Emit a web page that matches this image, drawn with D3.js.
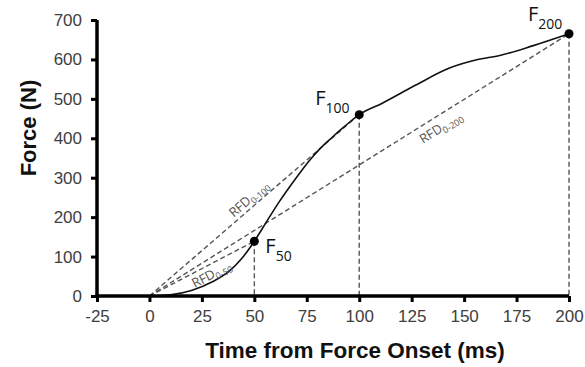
<!DOCTYPE html>
<html>
<head>
<meta charset="utf-8">
<script src="https://cdn.jsdelivr.net/npm/d3@7"></script>
<style>
  body { margin: 0; background: #fff; }
  text { font-family: Arial, "Liberation Sans", sans-serif; }
</style>
</head>
<body>
<script>
// curve data
const time = [0, 10, 20, 30, 38, 44, 50, 56, 62, 70, 76, 81, 87, 93, 100, 111, 127, 143, 156, 167, 183, 200]
const force = [0, 3, 14, 36, 63, 95, 139, 190, 240, 300, 342, 372, 402, 430, 460, 489, 535, 578, 599, 610, 635, 665]

// the marked points F50, F100, F200
const pointTimes = [50, 100, 200]
const pointForces = [139, 460, 665]
const pointNames = ['50', '100', '200']

const xTicks = [-25, 0, 25, 50, 75, 100, 125, 150, 175, 200]
const yTicks = [0, 100, 200, 300, 400, 500, 600, 700]

const margin = { top: 20, bottom: 71, left: 97, right: 16 }
const width = 585 - margin.left - margin.right
const height = 367 - margin.top - margin.bottom

const svg = d3.select('body').append('svg')
  .attr('width', 585)
  .attr('height', 367)

const g = svg.append('g').attr('transform', `translate(${margin.left},${margin.top})`)

const x = d3.scaleLinear().domain([-25, 200]).range([0, width])
const y = d3.scaleLinear().domain([0, 700]).range([height, 0])

// dashed lines from origin to each point + verticals
const dash = g.append('g')
  .style('stroke', '#555')
  .style('stroke-width', 1.4)
  .style('stroke-dasharray', '5,3')
  .style('fill', 'none')

pointTimes.forEach((t, i) => {
  dash.append('line')
    .attr('x1', x(0)).attr('y1', y(0))
    .attr('x2', x(t)).attr('y2', y(pointForces[i]))
  dash.append('line')
    .attr('x1', x(t)).attr('y1', y(pointForces[i]))
    .attr('x2', x(t)).attr('y2', y(0))
})

// force curve
const line = d3.line()
  .x((d, i) => x(time[i]))
  .y(d => y(d))
  .curve(d3.curveMonotoneX)

g.append('path')
  .datum(force)
  .attr('d', line)
  .style('fill', 'none')
  .style('stroke', '#111')
  .style('stroke-width', 1.6)

// axes
const xAxis = g.append('g')
  .attr('transform', `translate(0,${height})`)
  .call(d3.axisBottom(x).tickValues(xTicks).tickSize(6).tickPadding(8).tickFormat(d => d < 0 ? '-' + Math.abs(d) : d))
const yAxis = g.append('g')
  .call(d3.axisLeft(y).tickValues(yTicks).tickSize(6).tickPadding(9))

;[xAxis, yAxis].forEach(a => {
  a.select('.domain').style('stroke', '#000').style('stroke-width', 3.5)
  a.selectAll('.tick line').style('stroke', '#000').style('stroke-width', 3)
  a.selectAll('.tick text')
    .style('fill', '#404040')
    .style('font-size', '17px')
    .style('font-family', 'Arial, "Liberation Sans", sans-serif')
})
xAxis.select('.domain').attr('d', `M-1.5,0H${width}`)
yAxis.select('.domain').attr('d', `M0,0V${height}`)

// points
g.selectAll('circle.pt')
  .data(pointTimes)
  .join('circle')
  .attr('class', 'pt')
  .attr('cx', d => x(d))
  .attr('cy', (d, i) => y(pointForces[i]))
  .attr('r', 4.5)
  .style('fill', '#000')

// F labels
const fLabelOffsets = [[11, 12], [-44, -10], [-41, -13]]
pointTimes.forEach((t, i) => {
  const lbl = g.append('text')
    .attr('x', x(t) + fLabelOffsets[i][0])
    .attr('y', y(pointForces[i]) + fLabelOffsets[i][1])
    .style('font-family', '"Open Sans", sans-serif')
    .style('font-size', '20px')
    .style('fill', '#111')
  lbl.append('tspan').text('F')
  lbl.append('tspan').attr('dy', 8).style('font-size', '14px').text(pointNames[i])
})

// RFD labels along the dashed lines
const rfdLabels = [
  { t: 50, f: 139, pos: 0.55, off: 14, name: '0-50' },
  { t: 100, f: 460, pos: 0.5, off: -4, name: '0-100' },
  { t: 200, f: 665, pos: 0.68, off: 16, name: '0-200' }
]
rfdLabels.forEach(r => {
  const x0 = x(0), y0 = y(0), x1 = x(r.t), y1 = y(r.f)
  const ang = Math.atan2(y1 - y0, x1 - x0) * 180 / Math.PI
  const cx = x0 + (x1 - x0) * r.pos
  const cy = y0 + (y1 - y0) * r.pos
  const lbl = g.append('text')
    .attr('transform', `translate(${cx},${cy}) rotate(${ang})`)
    .attr('y', r.off)
    .attr('text-anchor', 'middle')
    .style('font-family', '"Open Sans", sans-serif')
    .style('font-size', '13px')
    .style('fill', '#555')
  lbl.append('tspan').text('RFD')
  lbl.append('tspan').attr('dy', 3).style('font-size', '9px').text(r.name)
})

// axis titles
svg.append('text')
  .attr('x', margin.left + x(98))
  .attr('y', 358)
  .attr('text-anchor', 'middle')
  .style('font-size', '22.5px')
  .style('font-weight', 'bold')
  .style('fill', '#111')
  .text('Time from Force Onset (ms)')

svg.append('text')
  .attr('transform', `translate(36,${margin.top + y(426)}) rotate(-90)`)
  .attr('text-anchor', 'middle')
  .style('font-size', '22px')
  .style('font-weight', 'bold')
  .style('fill', '#111')
  .text('Force (N)')
</script>
</body>
</html>
